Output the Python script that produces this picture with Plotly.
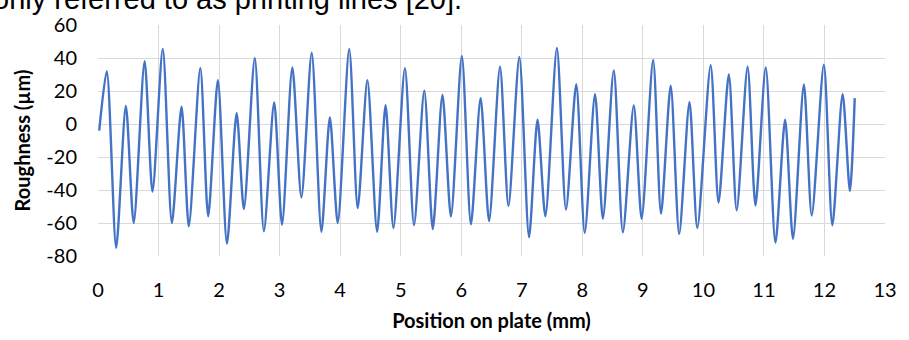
import plotly.graph_objects as go

# Extrema of the roughness profile (position mm, roughness µm)
position_mm = [
    0.02, 0.145, 0.30, 0.46, 0.59, 0.77, 0.90, 1.07, 1.22, 1.38, 1.50, 1.69, 1.82, 1.98,
    2.13, 2.29, 2.41, 2.59, 2.74, 2.91, 3.04, 3.21, 3.36, 3.53, 3.69, 3.83, 3.96, 4.15,
    4.29, 4.45, 4.61, 4.75, 4.88, 5.07, 5.22, 5.39, 5.53, 5.69, 5.83, 6.01, 6.16, 6.32,
    6.46, 6.64, 6.78, 6.96, 7.12, 7.26, 7.39, 7.58, 7.73, 7.90, 8.04, 8.21, 8.34, 8.52,
    8.67, 8.85, 8.98, 9.17, 9.30, 9.46, 9.60, 9.77, 9.90, 10.12, 10.25, 10.42, 10.55,
    10.73, 10.86, 11.03, 11.19, 11.35, 11.48, 11.66, 11.79, 11.99, 12.13, 12.30, 12.42,
    12.50,
]
roughness_um = [
    -4, 32, -75, 11, -60, 38, -41, 45.5, -60, 10.5, -62, 34, -56, 26.5,
    -72.5, 6.5, -51.5, 40, -65, 13, -61, 34.3, -44.5, 43.2, -65.3, 4, -60, 45.5,
    -51, 26.5, -65.3, 11.4, -63, 33.8, -61.3, 20.2, -63.7, 17.6, -56, 41.2, -60.8, 15.7,
    -58.8, 34.7, -49.6, 40.6, -68.6, 2.6, -55.9, 46.1, -51.9, 24.1, -66, 18, -57.4, 32.4,
    -65.7, 11.2, -57.4, 38.8, -54.3, 23.2, -66.6, 13.2, -63.1, 35.7, -47.6, 30, -52.3,
    34.7, -49.4, 34.3, -71.9, 2.6, -69.6, 23.9, -55.5, 35.9, -61.4, 18, -40.6,
    15.7,
]

x_ticks = list(range(0, 14))
y_ticks = list(range(-80, 61, 20))

fig = go.Figure()
fig.add_trace(go.Scatter(
    x=position_mm, y=roughness_um, mode="lines",
    line=dict(color="#4472C4", width=2.4, shape="spline", smoothing=0.75),
    showlegend=False, hoverinfo="x+y",
))

font_family = "Lato, Carlito, Calibri, sans-serif"
grid = "#D9D9D9"

fig.update_layout(
    width=909, height=340,
    margin=dict(l=98, r=15, t=20, b=83),
    paper_bgcolor="white", plot_bgcolor="white",
    font=dict(family=font_family, size=20, color="#000000"),
    xaxis=dict(
        range=[0, 13], tickvals=x_ticks, ticktext=[str(v) for v in x_ticks],
        showgrid=True, gridcolor=grid, gridwidth=1,
        zeroline=False, showline=False,
        ticks="", ticklabelstandoff=20,
        tickfont=dict(family=font_family, size=20, color="#000"),
        title=dict(text="<b>Position on plate (mm)</b>", standoff=13,
                   font=dict(family=font_family, size=20, color="#000")),
        fixedrange=True,
    ),
    yaxis=dict(
        range=[-80, 60], tickvals=y_ticks, ticktext=[str(v) for v in y_ticks],
        showgrid=True, gridcolor=grid, gridwidth=1,
        zeroline=False, showline=False,
        ticks="", ticklabelstandoff=20,
        tickfont=dict(family=font_family, size=20, color="#000"),
        title=dict(text="<b>Roughness (µm)</b>", standoff=10,
                   font=dict(family=font_family, size=20, color="#000")),
        fixedrange=True,
    ),
    annotations=[dict(
        text="only referred to as printing lines [20].",
        xref="paper", yref="paper", x=(468 - 98) / (894 - 98), y=1 + (20 - 11.5) / 237,
        xanchor="right", yanchor="bottom", showarrow=False,
        font=dict(family="Liberation Sans, Arial, sans-serif", size=29, color="#000"),
    )],
)

fig.write_html("out.html")
